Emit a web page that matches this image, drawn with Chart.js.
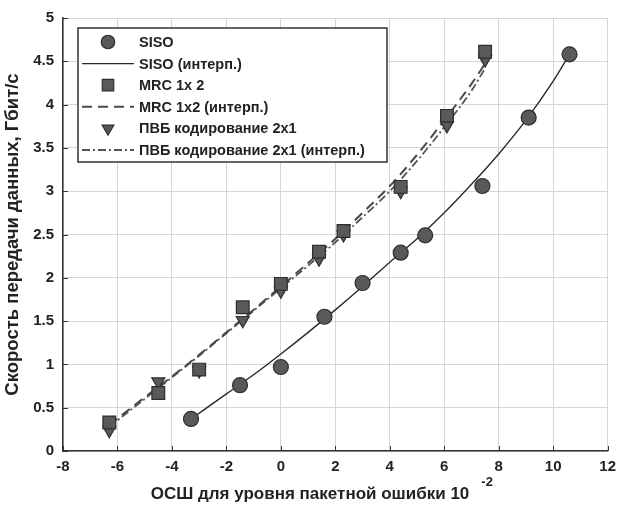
<!DOCTYPE html>
<html>
<head>
<meta charset="utf-8">
<script src="https://cdn.jsdelivr.net/npm/chart.js@4.4.0/dist/chart.umd.min.js"></script>
<style>
  html, body { margin: 0; padding: 0; background: #fff; }
  #wrap { width: 623px; height: 508px; }
</style>
</head>
<body>
<div id="wrap"><canvas id="c" width="623" height="508"></canvas></div>
<script>
// ── Data ──
const sisoX = [-3.3, -1.5, 0.0, 1.6, 3.0, 4.4, 5.3, 7.4, 9.1, 10.6];
const sisoY = [0.37, 0.76, 0.97, 1.55, 1.94, 2.29, 2.49, 3.06, 3.85, 4.58];

const mrcX = [-6.3, -4.5, -3.0, -1.4, 0.0, 1.4, 2.3, 4.4, 6.1, 7.5];
const mrcY = [0.33, 0.67, 0.94, 1.66, 1.93, 2.30, 2.54, 3.05, 3.87, 4.61];

const stbcX = [-6.3, -4.5, -3.0, -1.4, 0.0, 1.4, 2.3, 4.4, 6.1, 7.5];
const stbcY = [0.24, 0.80, 0.93, 1.51, 1.85, 2.22, 2.50, 3.00, 3.76, 4.52];

// interpolated curves
const sisoFitX = [-3.3, -2, -1, 0, 1, 2, 3, 4, 5, 6, 7, 8, 9, 10, 10.6];
const sisoFitY = [0.37, 0.66, 0.88, 1.12, 1.37, 1.63, 1.90, 2.18, 2.45, 2.75, 3.08, 3.43, 3.82, 4.27, 4.58];

const mrcFitX = [-6.3, -5, -4, -3, -2, -1, 0, 1, 2, 3, 4, 5, 6, 7, 7.6];
const mrcFitY = [0.30, 0.62, 0.86, 1.11, 1.37, 1.63, 1.90, 2.17, 2.45, 2.75, 3.06, 3.42, 3.82, 4.24, 4.52];

const stbcFitX = [-6.3, -5, -4, -3, -2, -1, 0, 1, 2, 3, 4, 5, 6, 7, 7.5];
const stbcFitY = [0.28, 0.60, 0.85, 1.10, 1.36, 1.62, 1.88, 2.14, 2.41, 2.70, 3.00, 3.35, 3.74, 4.16, 4.42];

const labels = [
  'SISO',
  'SISO (интерп.)',
  'MRC 1x 2',
  'MRC 1x2 (интерп.)',
  'ПВБ кодирование 2x1',
  'ПВБ кодирование 2x1 (интерп.)',
];

const X_MIN = -8, X_MAX = 12, X_STEP = 2;
const Y_MIN = 0, Y_MAX = 5, Y_STEP = 0.5;

const xTitle = 'ОСШ для уровня пакетной ошибки 10';
const xTitleSup = '-2';
const yTitle = 'Скорость передачи данных, Гбит/с';

// ── Style ──
const FONT = 'Liberation Sans, Arial, sans-serif';
const INK = '#222';
const MARK_FILL = '#595959';
const MARK_EDGE = '#2e2e2e';
const GRID = '#d6d6d6';

const pts = (xs, ys) => xs.map((x, i) => ({ x, y: ys[i] }));

function markerSet(label, xs, ys, style, radius, rotation) {
  return {
    label, data: pts(xs, ys), showLine: false,
    pointStyle: style, pointRadius: radius, pointRotation: rotation || 0,
    pointBackgroundColor: MARK_FILL, pointBorderColor: MARK_EDGE, pointBorderWidth: 1.2,
    order: 1,
  };
}

function curveSet(label, xs, ys, color, width, dash) {
  return {
    label, data: pts(xs, ys), showLine: true, tension: 0.4,
    cubicInterpolationMode: 'monotone',
    borderColor: color, borderWidth: width, borderDash: dash,
    pointRadius: 0, fill: false, order: 2,
  };
}

const datasets = [
  markerSet(labels[0], sisoX, sisoY, 'circle', 7.5),
  curveSet(labels[1], sisoFitX, sisoFitY, '#2a2a2a', 1.4, []),
  markerSet(labels[2], mrcX, mrcY, 'rect', 9),
  curveSet(labels[3], mrcFitX, mrcFitY, '#4a4a4a', 2, [10, 6]),
  markerSet(labels[4], stbcX, stbcY, 'triangle', 7.5, 180),
  curveSet(labels[5], stbcFitX, stbcFitY, '#555', 1.8, [8, 3, 2, 3]),
];

// ── Legend box, inner tick marks and x title with exponent ──
const decorPlugin = {
  id: 'decor',
  afterDraw(chart) {
    const ctx = chart.ctx;
    const xs = chart.scales.x, ys = chart.scales.y;
    const area = chart.chartArea;

    // short inward ticks on the axes
    ctx.save();
    ctx.strokeStyle = '#333';
    ctx.lineWidth = 1;
    ctx.beginPath();
    xs.ticks.forEach((t, i) => {
      const px = Math.round(xs.getPixelForTick(i)) + 0.5;
      ctx.moveTo(px, area.bottom); ctx.lineTo(px, area.bottom - 5);
    });
    ys.ticks.forEach((t, i) => {
      const py = Math.round(ys.getPixelForTick(i)) + 0.5;
      ctx.moveTo(area.left, py); ctx.lineTo(area.left + 5, py);
    });
    ctx.stroke();
    ctx.restore();

    // legend
    const bx = 78, by = 28, bw = 309, bh = 134, rowH = 21.6;
    ctx.save();
    ctx.fillStyle = '#fff';
    ctx.fillRect(bx, by, bw, bh);
    ctx.strokeStyle = '#333';
    ctx.lineWidth = 1.5;
    ctx.strokeRect(bx, by, bw, bh);
    ctx.font = 'bold 14.5px ' + FONT;
    ctx.textBaseline = 'middle';
    chart.data.datasets.forEach((ds, i) => {
      const cy = by + 14 + i * rowH;
      if (ds.showLine) {
        ctx.save();
        ctx.strokeStyle = ds.borderColor;
        ctx.lineWidth = ds.borderWidth;
        ctx.setLineDash(ds.borderDash || []);
        ctx.beginPath();
        ctx.moveTo(82, cy); ctx.lineTo(134, cy);
        ctx.stroke();
        ctx.restore();
      } else {
        ctx.save();
        ctx.fillStyle = ds.pointBackgroundColor;
        ctx.strokeStyle = ds.pointBorderColor;
        ctx.lineWidth = ds.pointBorderWidth;
        Chart.helpers.drawPoint(ctx, {
          pointStyle: ds.pointStyle, radius: ds.pointRadius * 0.9,
          rotation: ds.pointRotation, borderWidth: ds.pointBorderWidth,
        }, 108, cy);
        ctx.restore();
      }
      ctx.fillStyle = INK;
      ctx.fillText(ds.label, 139, cy + 1);
    });
    ctx.restore();

    // x axis title with superscript
    ctx.save();
    ctx.fillStyle = INK;
    ctx.font = 'bold 17px ' + FONT;
    ctx.textBaseline = 'middle';
    const w = ctx.measureText(xTitle).width;
    const x0 = 310 - w / 2;
    ctx.fillText(xTitle, x0, 494);
    ctx.font = 'bold 13px ' + FONT;
    ctx.fillText(xTitleSup, x0 + w + 12, 482);
    ctx.restore();
  },
};

new Chart(document.getElementById('c').getContext('2d'), {
  type: 'scatter',
  data: { datasets },
  options: {
    responsive: false,
    animation: false,
    layout: { padding: { top: 14, right: 11, left: 0, bottom: 0 } },
    plugins: {
      legend: { display: false },
      tooltip: { enabled: false },
    },
    scales: {
      x: {
        type: 'linear', min: X_MIN, max: X_MAX,
        afterFit: s => { s.height = 57; },
        ticks: { stepSize: X_STEP, color: INK, padding: 7, font: { family: FONT, size: 15, weight: 'bold' } },
        grid: { color: GRID, lineWidth: 1, drawTicks: false },
        border: { color: '#333', width: 1.5 },
      },
      y: {
        type: 'linear', min: Y_MIN, max: Y_MAX,
        afterFit: s => { s.width = 63; },
        ticks: {
          stepSize: Y_STEP, color: INK, padding: 9,
          font: { family: FONT, size: 15, weight: 'bold' },
          callback: v => String(+v.toFixed(1)),
        },
        grid: { color: GRID, lineWidth: 1, drawTicks: false },
        border: { color: '#333', width: 1.5 },
        title: {
          display: true, text: yTitle, color: INK, padding: { top: 2, bottom: 0 },
          font: { family: FONT, size: 18.5, weight: 'bold' },
        },
      },
    },
  },
  plugins: [decorPlugin],
});
</script>
</body>
</html>
